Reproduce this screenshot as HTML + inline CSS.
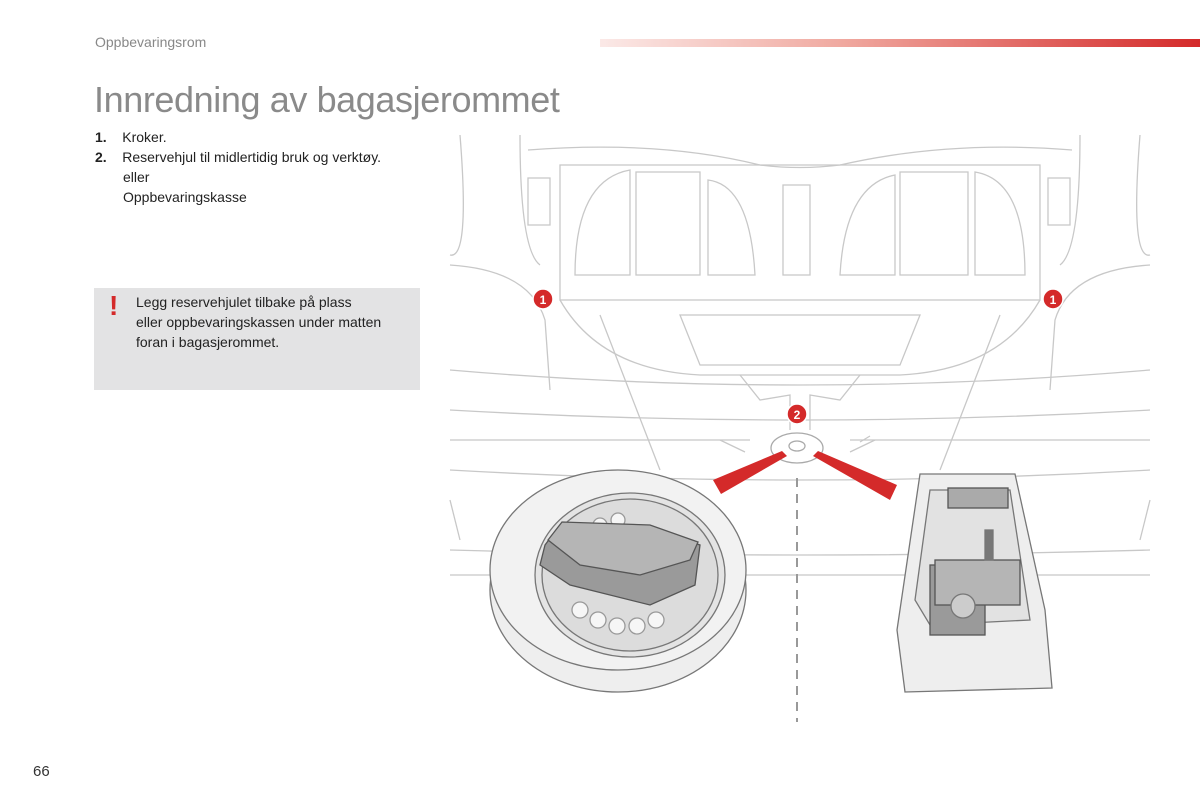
<!DOCTYPE html>
<html><head><meta charset="utf-8"><style>
body{margin:0;width:1200px;height:800px;background:#fff;position:relative;overflow:hidden;font-family:"Liberation Sans",sans-serif;color:#333}
.a{position:absolute}
</style></head><body>
<div class="a" style="left:95px;top:34px;font-size:14px;color:#888">Oppbevaringsrom</div>
<div class="a" style="left:600px;top:39px;width:600px;height:8px;background:linear-gradient(90deg,#fbe9e7,#f0a9a0 40%,#d42a2a)"></div>
<div class="a" style="left:94px;top:79px;font-size:36px;color:#8a8a8a;letter-spacing:-0.4px">Innredning av bagasjerommet</div>
<div class="a" style="left:95px;top:127px;font-size:14px;line-height:20px;color:#222">
<div><b>1.</b>&nbsp;&nbsp;&nbsp;&nbsp;Kroker.</div>
<div><b>2.</b>&nbsp;&nbsp;&nbsp;&nbsp;Reservehjul til midlertidig bruk og verktøy.</div>
<div style="padding-left:28px">eller<br>Oppbevaringskasse</div></div>
<div class="a" style="left:94px;top:288px;width:326px;height:102px;background:#e3e3e4"></div>
<div class="a" style="left:109px;top:290px;font-size:28px;font-weight:bold;color:#d42a2a">!</div>
<div class="a" style="left:136px;top:292px;font-size:14px;line-height:20px;color:#222">Legg reservehjulet tilbake på plass<br>eller oppbevaringskassen under matten<br>foran i bagasjerommet.</div>
<div class="a" style="left:33px;top:763px;font-size:15px;color:#333">66</div>
<svg class="a" style="left:0;top:0" width="1200" height="800" fill="none" stroke="#c8c8c8" stroke-width="1.3">
<path d="M460 135 Q470 260 450 255 M520 135 Q520 250 540 265 M1080 135 Q1080 250 1060 265 M1140 135 Q1130 260 1150 255"/>
<path d="M528 150 Q660 140 760 165 Q800 170 840 165 Q950 140 1072 150"/>
<path d="M560 165 L1040 165 L1040 300 L560 300 Z"/>
<path d="M575 275 Q575 180 630 170 L630 275 Z M636 172 L700 172 L700 275 L636 275 Z M708 180 Q750 185 755 275 L708 275 Z M783 185 L810 185 L810 275 L783 275 Z M840 275 Q845 185 895 175 L895 275 Z M900 172 L968 172 L968 275 L900 275 Z M975 172 Q1025 180 1025 275 L975 275 Z"/>
<path d="M528 178 L550 178 L550 225 L528 225 Z M1048 178 L1070 178 L1070 225 L1048 225 Z"/>
<path d="M450 265 Q530 270 545 320 L550 390 M1150 265 Q1070 270 1055 320 L1050 390"/>
<path d="M560 300 Q600 370 700 375 L900 375 Q1000 370 1040 300"/>
<path d="M680 315 L920 315 L900 365 L700 365 Z"/>
<path d="M740 375 L760 400 L790 395 L790 430 M860 375 L840 400 L810 395 L810 430"/>
<path d="M450 370 Q800 400 1150 370 M450 410 Q800 430 1150 410 M450 440 L750 440 M850 440 L1150 440"/>
<path d="M600 315 L660 470 M1000 315 L940 470"/>
<path d="M450 470 Q800 490 1150 470 M450 500 L460 540 M1150 500 L1140 540 M450 575 L1150 575 M450 550 Q800 560 1150 550"/>
<ellipse cx="797" cy="448" rx="26" ry="15" stroke="#aaa"/>
<ellipse cx="797" cy="446" rx="8" ry="5" stroke="#aaa"/>
<path d="M720 440 L745 452 M875 440 L850 452 M870 436 L860 442"/>
</svg>
<svg class="a" style="left:0;top:0" width="1200" height="800" stroke="#777" stroke-width="1.3">
<ellipse cx="618" cy="590" rx="128" ry="102" fill="#eeeeee"/>
<ellipse cx="618" cy="570" rx="128" ry="100" fill="#f2f2f2"/>
<ellipse cx="630" cy="575" rx="95" ry="82" fill="#e4e4e4"/>
<ellipse cx="630" cy="575" rx="88" ry="76" fill="#dcdcdc"/>
<g fill="#f6f6f6" stroke="#999"><circle cx="598" cy="620" r="8"/><circle cx="617" cy="626" r="8"/><circle cx="637" cy="626" r="8"/><circle cx="656" cy="620" r="8"/><circle cx="580" cy="610" r="8"/><circle cx="600" cy="525" r="7"/><circle cx="618" cy="520" r="7"/></g>
<path d="M545 545 L560 525 L650 528 L700 545 L695 585 L650 605 L570 585 L540 565 Z" fill="#9a9a9a" stroke="#555"/>
<path d="M548 540 L562 522 L650 525 L698 542 L690 560 L640 575 L580 565 Z" fill="#b5b5b5" stroke="#555"/>
<path d="M920 474 L1015 474 L1045 610 L1052 688 L905 692 L897 630 Z" fill="#eeeeee"/>
<path d="M930 490 L1010 490 L1030 620 L930 625 L915 600 Z" fill="#e2e2e2"/>
<rect x="948" y="488" width="60" height="20" fill="#aaa" stroke="#555"/>
<rect x="930" y="565" width="55" height="70" fill="#9a9a9a" stroke="#555"/>
<rect x="935" y="560" width="85" height="45" fill="#b5b5b5" stroke="#555"/>
<circle cx="963" cy="606" r="12" fill="#ccc"/>
<rect x="985" y="530" width="8" height="30" fill="#777"/>
</svg>
<svg class="a" style="left:0;top:0" width="1200" height="800">
<path d="M713 480 L721 494 L787 456 L782 451 Z" fill="#d42a2a"/>
<path d="M813 456 L818 451 L897 485 L890 500 Z" fill="#d42a2a"/>
<line x1="797" y1="478" x2="797" y2="722" stroke="#999" stroke-width="2" stroke-dasharray="9,7"/>
<g fill="#d42a2a" stroke="#fff" stroke-width="1.5">
<circle cx="543" cy="299" r="10"/><circle cx="1053" cy="299" r="10"/><circle cx="797" cy="414" r="10"/></g>
<g fill="#fff" font-family="Liberation Sans" font-size="12" font-weight="bold" text-anchor="middle">
<text x="543" y="304">1</text><text x="1053" y="304">1</text><text x="797" y="419">2</text></g>
</svg>
</body></html>
